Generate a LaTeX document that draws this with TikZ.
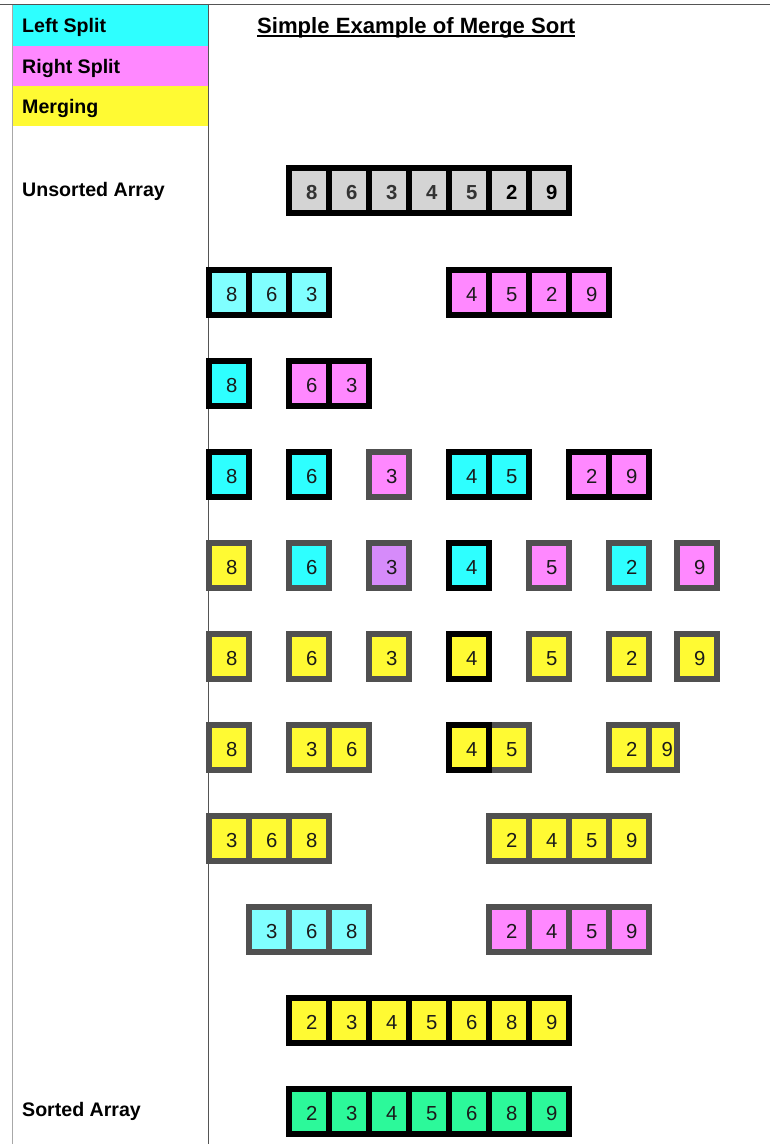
\documentclass[tikz,border=0pt]{standalone}
\usepackage{fontspec}
\setmainfont{Liberation Sans}
\definecolor{cyanA}{HTML}{2EFFFF}
\definecolor{cyanL}{HTML}{80FFFF}
\definecolor{pinkA}{HTML}{FF88FF}
\definecolor{yellowA}{HTML}{FFFA33}
\definecolor{purpleA}{HTML}{D68BFA}
\definecolor{greenA}{HTML}{2CF99A}
\definecolor{grayF}{HTML}{D4D4D4}
\definecolor{bordG}{HTML}{505050}
\definecolor{lineD}{HTML}{555555}
\definecolor{lineL}{HTML}{A8A8A8}
\definecolor{txtD}{HTML}{1A1A1A}
\definecolor{txtG}{HTML}{333333}
\tikzset{
  cellbox/.style={line width=6pt, line join=miter},
  digit/.style={anchor=base east, inner sep=0pt, font=\fontsize{20.3}{23}\selectfont, text=txtD},
  bdigit/.style={anchor=base east, inner sep=0pt, font=\fontsize{20.3}{23}\selectfont\bfseries, text=txtG},
  bdigitk/.style={bdigit, text=black},
  lbl/.style={anchor=base west, inner sep=0pt, font=\fontsize{19.6}{22}\selectfont\bfseries},
}
% name, x of left line, y centre, fill, border, digit style, digits
\newcommand\grp[7]{%
  \foreach \d [count=\i from 0] in {#7} {
    \draw[cellbox, fill=#4, draw=#5] ({#2+40*\i}, {#3-22.5}) rectangle ++(40,45);
    \node[#6] (#1-\i) at ({#2+40*\i+28.5}, {#3+9.3}) {\d};
  }}
\begin{document}
\begin{tikzpicture}[x=1pt,y=-1pt]
\useasboundingbox (0,0) rectangle (770,1144);
\fill[white] (0,0) rectangle (770,1144);
% legend
\fill[cyanA] (13,5) rectangle (208,46);
\fill[pinkA] (13,46) rectangle (208,86);
\fill[yellowA] (13,86) rectangle (208,126);
\draw[lineD, line width=1pt] (0,4.5) -- (770,4.5);
\draw[lineL, line width=1pt] (12.5,4.5) -- (12.5,1144);
\draw[lineD, line width=1pt] (208.5,4.5) -- (208.5,1144);
\node[lbl] (lleft) at (22,32.3) {Left Split};
\node[lbl] (lright) at (22,73) {Right Split};
\node[lbl] (lmerge) at (22,113.3) {Merging};
\node[lbl] (lunsort) at (22,196.7) {Unsorted Array};
\node[lbl] (lsort) at (22,1116.7) {Sorted Array};
\node[anchor=base west, inner sep=0pt, font=\fontsize{22.1}{26}\selectfont\bfseries] (title) at (257,33.3) {Simple Example of Merge Sort};
\draw[line width=1.4pt] ([yshift=-2.6pt]title.base west) -- ([yshift=-2.6pt]title.base east);
% row 1
\grp{r1a}{289}{190.5}{grayF}{black}{bdigit}{8,6,3,4,5}
\grp{r1b}{489}{190.5}{grayF}{black}{bdigitk}{2,9}
% row 2
\grp{r2a}{209}{292.5}{cyanL}{black}{digit}{8,6,3}
\grp{r2b}{449}{292.5}{pinkA}{black}{digit}{4,5,2,9}
% row 3
\grp{r3a}{209}{383.5}{cyanA}{black}{digit}{8}
\grp{r3b}{289}{383.5}{pinkA}{black}{digit}{6,3}
% row 4
\grp{r4a}{209}{474.5}{cyanA}{black}{digit}{8}
\grp{r4b}{289}{474.5}{cyanA}{black}{digit}{6}
\grp{r4c}{369}{474.5}{pinkA}{bordG}{digit}{3}
\grp{r4d}{449}{474.5}{cyanA}{black}{digit}{4,5}
\grp{r4e}{569}{474.5}{pinkA}{black}{digit}{2,9}
% row 5
\grp{r5a}{209}{565}{yellowA}{bordG}{digit}{8}
\grp{r5b}{289}{565}{cyanA}{bordG}{digit}{6}
\grp{r5c}{369}{565}{purpleA}{bordG}{digit}{3}
\grp{r5d}{449}{565}{cyanA}{black}{digit}{4}
\grp{r5e}{529}{565}{pinkA}{bordG}{digit}{5}
\grp{r5f}{609}{565}{cyanA}{bordG}{digit}{2}
\grp{r5g}{677}{565}{pinkA}{bordG}{digit}{9}
% row 6
\grp{r6a}{209}{656}{yellowA}{bordG}{digit}{8}
\grp{r6b}{289}{656}{yellowA}{bordG}{digit}{6}
\grp{r6c}{369}{656}{yellowA}{bordG}{digit}{3}
\grp{r6d}{449}{656}{yellowA}{black}{digit}{4}
\grp{r6e}{529}{656}{yellowA}{bordG}{digit}{5}
\grp{r6f}{609}{656}{yellowA}{bordG}{digit}{2}
\grp{r6g}{677}{656}{yellowA}{bordG}{digit}{9}
% row 7
\grp{r7a}{209}{747}{yellowA}{bordG}{digit}{8}
\grp{r7b}{289}{747}{yellowA}{bordG}{digit}{3,6}
\grp{r7c}{449}{747}{yellowA}{bordG}{digit}{4,5}
\grp{r7d}{449}{747}{yellowA}{black}{digit}{4}
\grp{r7e}{609}{747}{yellowA}{bordG}{digit}{2}
\draw[cellbox, fill=yellowA, draw=bordG] (649,724.5) rectangle (677,769.5);
\node[digit] (r7f) at (673,756.3) {9};
% row 8
\grp{r8a}{209}{838}{yellowA}{bordG}{digit}{3,6,8}
\grp{r8b}{489}{838}{yellowA}{bordG}{digit}{2,4,5,9}
% row 9
\grp{r9a}{249}{929}{cyanL}{bordG}{digit}{3,6,8}
\grp{r9b}{489}{929}{pinkA}{bordG}{digit}{2,4,5,9}
% row 10
\grp{r10}{289}{1020}{yellowA}{black}{digit}{2,3,4,5,6,8,9}
% row 11
\grp{r11}{289}{1111}{greenA}{black}{digit}{2,3,4,5,6,8,9}
\end{tikzpicture}
\end{document}
